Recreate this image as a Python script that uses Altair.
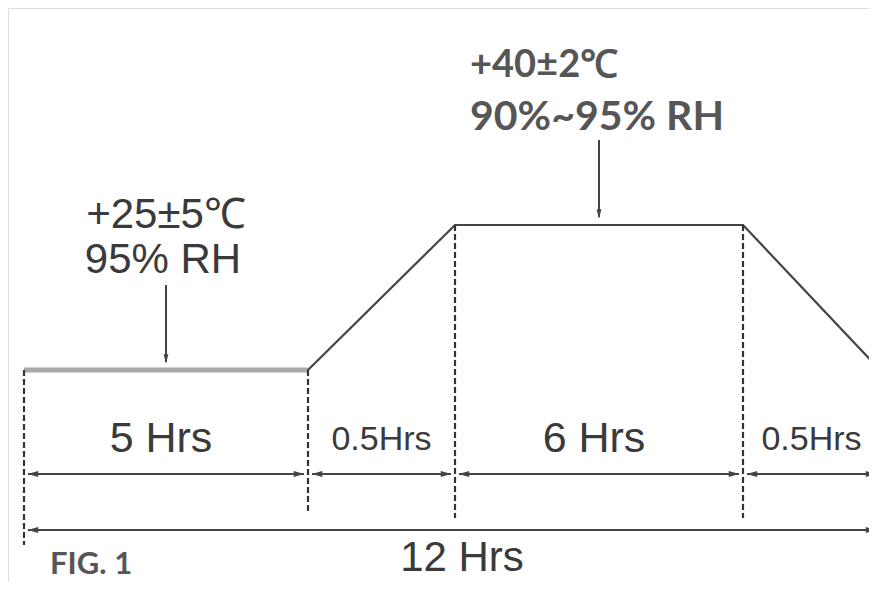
import altair as alt
import pandas as pd
import numpy as np

# ---- data ----
phase_labels = ["5 Hrs", "0.5Hrs", "6 Hrs", "0.5Hrs"]
phase_hours = [5, 0.5, 6, 0.5]
profile_time = [0, 5, 5.5, 11.5, 12]
profile_temp = [25, 25, 40, 40, 25]
total_label = "12 Hrs"
cond_temp = [25, 40]
cond_time = [2.5, 8.5]
cond_temp_text = ["+25±5℃", "+40±2℃"]
cond_rh_text = ["95% RH", "90%~95% RH"]
fig_label = "FIG. 1"

# ---- derived tables ----
starts = np.concatenate([[0], np.cumsum(phase_hours)[:-1]])
ends = np.cumsum(phase_hours)
phases = pd.DataFrame({"label": phase_labels, "hours": phase_hours,
                       "start": starts, "end": ends,
                       "mid": starts + np.array(phase_hours) / 2})
total = pd.DataFrame({"start": [0.0], "end": [float(ends[-1])], "label": [total_label]})
profile = pd.DataFrame({"time": profile_time, "temp": profile_temp})
hold_first = pd.DataFrame({"t0": [profile_time[0]], "t1": [profile_time[1]], "temp": [profile_temp[0]]})
rest = profile.iloc[1:]
bounds = profile.iloc[:-1]
cond = pd.DataFrame({"time": cond_time, "temp": cond_temp,
                     "ttext": cond_temp_text, "rh": cond_rh_text})

xscale = alt.Scale(domain=list(np.concatenate([[0], ends]).astype(float)),
                   range=[16, 300, 447, 735, 872])
yscale = alt.Scale(domain=[25, 40], range=[362, 217])


def X(f):
    return alt.X(f, type="quantitative", scale=xscale, axis=None)


def X2(f):
    return alt.X2(f)


def Y(f):
    return alt.Y(f, type="quantitative", scale=yscale, axis=None)


DARK = "#444444"
TXT = "#3a3a3a"
LATO = "#565656"
left_head = "M -1 0 L 1 -0.55 L 1 0.55 Z"
right_head = "M 1 0 L -1 -0.55 L -1 0.55 Z"
down_head = "M 0 1 L -0.5 -1 L 0.5 -1 Z"

layers = []

# first hold segment (light, thick)
layers.append(alt.Chart(hold_first).mark_rule(color="#a9a9a9", strokeWidth=5).encode(
    x=X("t0"), x2=X2("t1"), y=Y("temp")))
# ramp / hold / ramp
layers.append(alt.Chart(rest).mark_line(color=DARK, strokeWidth=2.2).encode(
    x=X("time"), y=Y("temp")))

# dashed boundary lines
layers.append(alt.Chart(bounds.iloc[:1]).mark_rule(color="#333333", strokeWidth=2.2, strokeDash=[6, 3]).encode(
    x=X("time"), y=Y("temp"), y2=alt.value(537)))
layers.append(alt.Chart(bounds.iloc[1:2]).mark_rule(color="#333333", strokeWidth=2.2, strokeDash=[6, 3]).encode(
    x=X("time"), y=Y("temp"), y2=alt.value(505)))
layers.append(alt.Chart(bounds.iloc[2:]).mark_rule(color="#333333", strokeWidth=2.2, strokeDash=[6, 3]).encode(
    x=X("time"), y=Y("temp"), y2=alt.value(510)))


def dim_row(df, ypix):
    out = []
    out.append(alt.Chart(df).mark_rule(color=DARK, strokeWidth=2.2, xOffset=4, x2Offset=-4).encode(
        x=X("start"), x2=X2("end"), y=alt.value(ypix)))
    out.append(alt.Chart(df).mark_point(shape=left_head, filled=True, size=110, color=DARK,
                                        opacity=1, xOffset=9).encode(
        x=X("start"), y=alt.value(ypix)))
    out.append(alt.Chart(df).mark_point(shape=right_head, filled=True, size=110, color=DARK,
                                        opacity=1, xOffset=-9).encode(
        x=X("end"), y=alt.value(ypix)))
    return out


layers += dim_row(phases, 466)
layers += dim_row(total, 522)

# phase labels
layers.append(alt.Chart(phases[phases.hours >= 1]).mark_text(
    font="Liberation Sans", color=TXT, baseline="alphabetic", align="center", fontSize=43, dx=-5).encode(
    x=X("mid"), y=alt.value(444), text="label:N"))
layers.append(alt.Chart(phases[phases.hours < 1]).mark_text(
    font="Liberation Sans", color=TXT, baseline="alphabetic", align="center", fontSize=34).encode(
    x=X("mid"), y=alt.value(442), text="label:N"))

# total label
layers.append(alt.Chart(total).mark_text(font="Liberation Sans", color=TXT, fontSize=42,
                                         baseline="alphabetic", align="center").encode(
    x=alt.value(454), y=alt.value(563), text="label:N"))

# condition arrows
layers.append(alt.Chart(cond).mark_rule(color=DARK, strokeWidth=2, yOffset=-85, y2Offset=-8).encode(
    x=X("time"), y=Y("temp"), y2=alt.Y2("temp")))
layers.append(alt.Chart(cond).mark_point(shape=down_head, filled=True, size=90, color=DARK,
                                         opacity=1, yOffset=-11).encode(
    x=X("time"), y=Y("temp")))

c25 = cond.iloc[:1]
c40 = cond.iloc[1:]
layers.append(alt.Chart(c25).mark_text(font="Liberation Sans", fontSize=42, color=TXT,
                                       baseline="alphabetic", align="center", dy=-142).encode(
    x=X("time"), y=Y("temp"), text="ttext:N"))
layers.append(alt.Chart(c25).mark_text(font="Liberation Sans", fontSize=42, color=TXT,
                                       baseline="alphabetic", align="center", dx=-3, dy=-97).encode(
    x=X("time"), y=Y("temp"), text="rh:N"))
layers.append(alt.Chart(c40).mark_text(font="Lato", fontWeight="bold", fontSize=38, color=LATO,
                                       baseline="alphabetic", align="left", dx=-129, dy=-148).encode(
    x=X("time"), y=Y("temp"), text="ttext:N"))
layers.append(alt.Chart(c40).mark_text(font="Lato", fontWeight="bold", fontSize=41, color=LATO,
                                       baseline="alphabetic", align="left", dx=-129, dy=-95).encode(
    x=X("time"), y=Y("temp"), text="rh:N"))

# figure label
layers.append(alt.Chart(pd.DataFrame({"t": [fig_label]})).mark_text(
    font="Lato", fontWeight="bold", fontSize=31, color=LATO, baseline="alphabetic", align="left").encode(
    x=alt.value(42), y=alt.value(566), text="t:N"))

chart = alt.layer(*layers).properties(
    width=861, height=573, autosize=alt.AutoSizeParams(type="none"), padding=0
).configure_view(stroke=None, strokeWidth=0).configure(background="white")

chart.save("out.html", embed_options={"renderer": "svg", "actions": False})
